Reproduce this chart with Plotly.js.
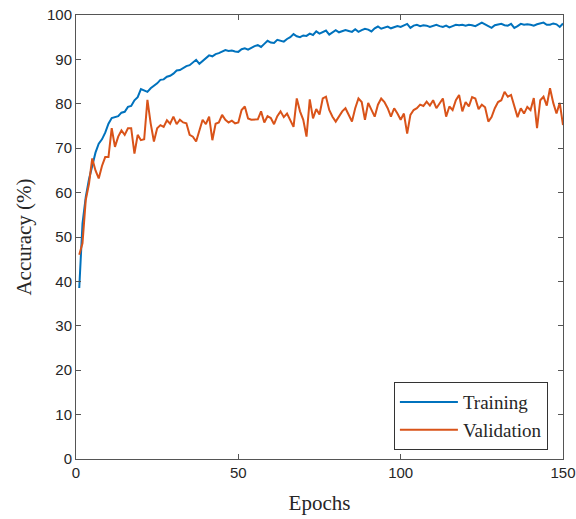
<!DOCTYPE html>
<html>
<head>
<meta charset="utf-8">
<script src="https://cdn.plot.ly/plotly-3.0.1.min.js"></script>
<style>html,body{margin:0;padding:0;background:#fff;}#chart{width:576px;height:519px;}</style>
</head>
<body>
<div id="chart"></div>
<script>
var training = [38.5,53,59,63,66,69,71,72,73.5,75.5,76.8,77,77.2,78,78.2,79.3,79.5,80.8,81.5,83.3,
83,82.7,83.5,84,84.6,85.4,85.5,86.1,86.3,86.8,87.5,87.6,88,88.5,88.7,89.2,89.9,89,89.6,90.2,
90.9,90.7,91.2,91.4,91.8,92.1,91.9,92,91.8,91.7,92.3,92.5,92.2,92.6,93,93.2,92.8,93.5,94.2,93.8,
93.7,94.4,94.2,94,94.6,95,95.7,95.2,95,95.4,95.3,95.8,95.5,96.3,95.8,96.2,96.5,95.6,96.2,96.6,
96.1,96.3,96.6,96.4,96.2,96.8,96.2,96.6,96.9,96.7,96.3,97,97.4,96.9,97.2,97.4,97,97.2,97.5,97.3,
97.6,98,97.1,97.6,97.8,97.5,97.7,97.6,97.3,97.6,97.8,97.5,97.3,97.6,97.2,97.5,97.8,97.7,97.8,97.6,
97.8,97.7,97.5,97.9,98.3,97.9,97.5,97.1,97.7,97.8,98,97.7,97.6,98,97.1,97.5,98,97.8,97.9,97.8,
97.6,97.9,98.1,98.3,97.8,97.8,98.1,97.9,97.3,98.1];
var validation = [46,48.6,58.3,62,67.7,65,63.2,66,68,68,74.5,70.3,72.6,74,73,74.5,74.5,68.8,73,71.8,
72,80.9,75.6,71.5,74.5,75.2,74.8,76.3,75.5,77.1,75.4,76.4,75.8,75.6,73,72.6,71.5,74,76.4,75.4,
77.1,71.8,75.5,75.8,77.5,76.4,75.8,76.2,75.6,75.8,78.6,79.4,76.7,76.4,76.5,76.5,78.3,75.8,77.2,76.8,
75.4,77.2,78.3,77,77.8,76.2,74.8,81.2,78.3,76.4,72.6,81,76.7,78.8,77.6,81.2,81.6,78.6,77.1,76,
77.2,78.3,79,77.5,76,79,81.2,80.4,76.4,80.2,78.6,77.1,79.8,81.2,80.4,79,77.1,79,77.8,76.4,
77.8,73.3,77.5,78.6,79,79.8,79.5,80.5,79.6,80.8,79,80.2,81.2,77.1,79.4,78.6,80.8,82,78.3,80.4,
79.4,81.5,81.2,78.8,79.8,79.2,76,77,79,80.4,80.8,82.7,81.6,82,79.3,77,79,77.8,79.3,78.6,
81.3,74.5,80.8,81.6,79.6,83.5,80.2,77.8,80.2,75.2];
var epochs = training.map(function(_, i){ return i + 1; });
var xTicks = [0, 50, 100, 150];
var yTicks = [0,10,20,30,40,50,60,70,80,90,100];

var traces = [
  {x: epochs, y: training, mode: 'lines', name: 'Training', line: {color: '#0072BD', width: 2}},
  {x: epochs, y: validation, mode: 'lines', name: 'Validation', line: {color: '#D95319', width: 2}}
];
var axisCommon = {
  showgrid: false, zeroline: false, showline: true, mirror: 'ticks',
  linecolor: '#555', linewidth: 1, ticks: 'inside', ticklen: 5, tickcolor: '#555',
  tickfont: {family: 'Liberation Sans, Arial, sans-serif', size: 15, color: '#262626'}
};
var layout = {
  width: 576, height: 519,
  margin: {l: 76, r: 13, t: 15, b: 60},
  paper_bgcolor: '#fff', plot_bgcolor: '#fff',
  showlegend: true,
  xaxis: Object.assign({}, axisCommon, {
    range: [0, 150], tickvals: xTicks, ticktext: xTicks.map(String),
    title: {text: 'Epochs', font: {family: 'Liberation Serif, Times New Roman, serif', size: 21, color: '#262626'}, standoff: 15}
  }),
  yaxis: Object.assign({}, axisCommon, {
    range: [0, 100], tickvals: yTicks, ticktext: yTicks.map(String),
    title: {text: 'Accuracy (%)', font: {family: 'Liberation Serif, Times New Roman, serif', size: 21, color: '#262626'}, standoff: 9}
  }),
  legend: {
    x: 0.969, y: 0.02, xanchor: 'right', yanchor: 'bottom',
    bgcolor: '#fff', bordercolor: '#333', borderwidth: 1,
    font: {family: 'Liberation Serif, Times New Roman, serif', size: 19, color: '#262626'},
    itemwidth: 58, tracegroupgap: 0
  }
};
Plotly.newPlot('chart', traces, layout, {displayModeBar: false, staticPlot: true});
</script>
</body>
</html>
